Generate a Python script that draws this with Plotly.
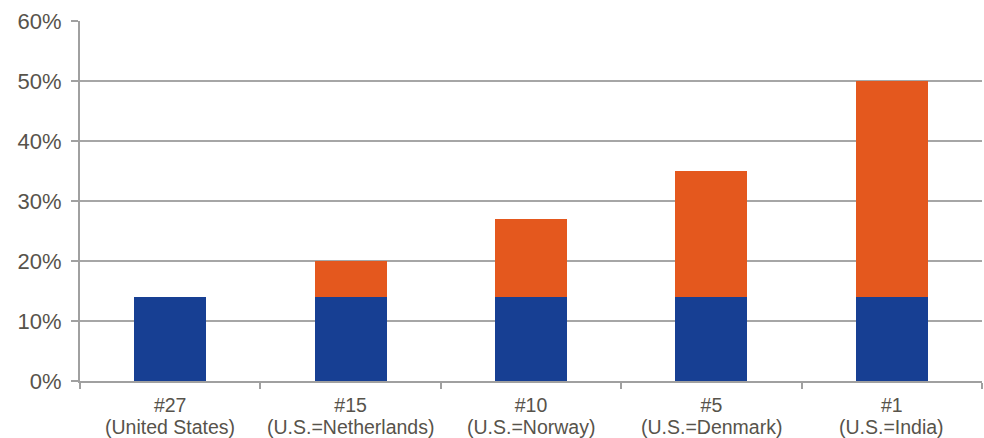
import plotly.graph_objects as go

categories = ["#27", "#15", "#10", "#5", "#1"]
subtitles = ["(United States)", "(U.S.=Netherlands)", "(U.S.=Norway)", "(U.S.=Denmark)", "(U.S.=India)"]
base_values = [14, 14, 14, 14, 14]
extra_values = [0, 6, 13, 21, 36]
y_ticks = [0, 10, 20, 30, 40, 50, 60]
y_tick_labels = ["0%", "10%", "20%", "30%", "40%", "50%", "60%"]

fig = go.Figure()
fig.add_trace(go.Bar(x=categories, y=base_values, marker=dict(color="#173F93", line=dict(width=0)),
                     showlegend=False))
fig.add_trace(go.Bar(x=categories, y=extra_values, marker=dict(color="#E4581E", line=dict(width=0)),
                     showlegend=False))

font_color = "#57534B"
for cat, sub in zip(categories, subtitles):
    fig.add_annotation(x=cat, xref="x", y=0, yref="paper", yshift=-46, text=sub, showarrow=False,
                       font=dict(size=19.5, color=font_color), yanchor="middle", xanchor="center")

fig.update_layout(
    barmode="stack",
    bargap=0.6,
    width=984, height=438,
    margin=dict(l=80, r=2, t=21, b=57),
    paper_bgcolor="white", plot_bgcolor="white",
    font=dict(family="Liberation Sans, Arial, sans-serif", color=font_color),
)
fig.update_xaxes(
    showline=True, linecolor="#A0A0A0", linewidth=2, automargin=False,
    ticks="outside", tickson="boundaries", ticklen=6, tickcolor="#A0A0A0", tickwidth=2,
    tickfont=dict(size=19.5, color=font_color), showgrid=False, ticklabelstandoff=6,
)
fig.update_yaxes(
    range=[0, 60], tickvals=y_ticks, ticktext=y_tick_labels, automargin=False,
    showline=True, linecolor="#A0A0A0", linewidth=2,
    ticks="outside", ticklen=7, tickcolor="#A0A0A0", tickwidth=2,
    showgrid=True, gridcolor="#A6A6A6", gridwidth=1.5,
    tickfont=dict(size=22, color=font_color), zeroline=False, ticklabelstandoff=5,
)
post = ("document.body.style.margin='0';document.body.style.overflow='hidden';"
        "Plotly.Plots.resize(document.getElementById('{plot_id}'));")
fig.write_html("out.html", post_script=post, config={"responsive": False, "displayModeBar": False})
